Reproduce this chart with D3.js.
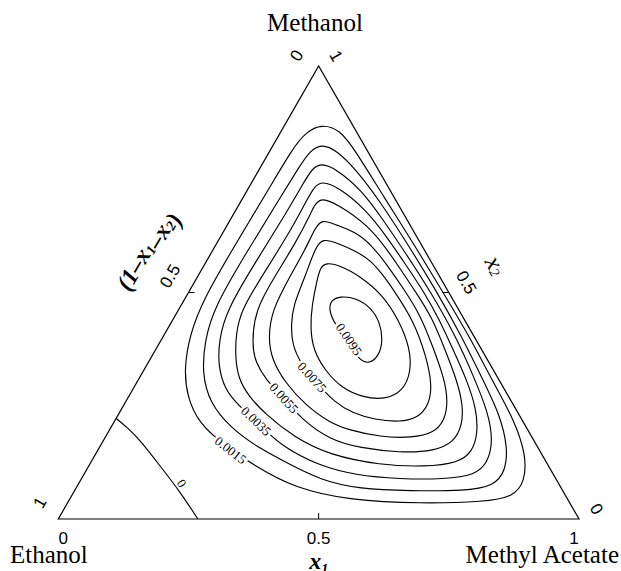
<!DOCTYPE html>
<html>
<head>
<meta charset="utf-8">
<script src="https://cdn.jsdelivr.net/npm/d3@7"></script>
<style>
  body { margin: 0; background: #fff; }
  svg { display: block; }
</style>
</head>
<body>
<script>
const width = 621;
const height = 571;

// contour data, each point is [x1 (methyl acetate), x2 (methanol)]
const levels = [0.0015, 0.0025, 0.0035, 0.0045, 0.0055, 0.0065, 0.0075, 0.0085, 0.0095];

const ring1 = [[.069,.872],[.112,.859],[.162,.815],[.277,.704],[.370,.616],[.488,.501],[.591,.400],[.684,.302],[.766,.219],[.828,.141],[.855,.082],[.849,.049],[.801,.038],[.678,.034],[.540,.041],[.420,.068],[.319,.117],[.232,.166],[.164,.212],[.113,.269],[.075,.333],[.049,.408],[.036,.483],[.037,.605],[.040,.726],[.041,.819],[.049,.854]];
const ring2 = [[.091,.828],[.126,.815],[.188,.770],[.264,.704],[.358,.616],[.477,.501],[.574,.402],[.662,.307],[.733,.230],[.785,.157],[.806,.104],[.800,.073],[.750,.062],[.645,.062],[.546,.066],[.460,.086],[.377,.124],[.302,.159],[.228,.203],[.163,.256],[.115,.322],[.084,.395],[.066,.466],[.067,.583],[.071,.698],[.074,.781],[.077,.812]];
const ring3 = [[.112,.786],[.147,.773],[.220,.726],[.294,.660],[.366,.594],[.465,.501],[.563,.402],[.647,.307],[.707,.236],[.748,.174],[.763,.124],[.752,.097],[.698,.088],[.612,.088],[.521,.097],[.444,.117],[.350,.159],[.272,.216],[.219,.252],[.178,.285],[.139,.336],[.111,.395],[.093,.461],[.095,.565],[.100,.671],[.100,.748],[.101,.773]];
const ring4 = [[.133,.746],[.171,.733],[.251,.682],[.327,.616],[.387,.561],[.452,.501],[.513,.439],[.572,.373],[.631,.307],[.680,.245],[.711,.190],[.721,.148],[.706,.124],[.647,.115],[.558,.119],[.451,.141],[.365,.179],[.281,.232],[.229,.272],[.190,.311],[.161,.358],[.138,.406],[.120,.461],[.124,.550],[.128,.642],[.125,.709],[.125,.733]];
const ring5 = [[.152,.709],[.188,.695],[.270,.649],[.335,.594],[.383,.550],[.436,.501],[.496,.444],[.547,.384],[.612,.307],[.651,.252],[.672,.208],[.675,.170],[.648,.150],[.583,.146],[.501,.157],[.435,.174],[.353,.223],[.300,.267],[.245,.307],[.205,.347],[.180,.384],[.147,.461],[.148,.536],[.151,.611],[.148,.671],[.145,.695]];
const ring6 = [[.175,.662],[.209,.649],[.253,.634],[.299,.605],[.351,.561],[.417,.501],[.472,.448],[.526,.384],[.589,.307],[.619,.258],[.633,.219],[.627,.190],[.590,.179],[.527,.181],[.462,.196],[.416,.212],[.348,.252],[.284,.302],[.235,.351],[.203,.400],[.180,.461],[.177,.532],[.177,.594],[.172,.642]];
const ring7 = [[.198,.620],[.231,.609],[.274,.592],[.313,.572],[.354,.539],[.396,.501],[.462,.439],[.525,.362],[.570,.296],[.586,.252],[.579,.223],[.549,.214],[.499,.219],[.447,.234],[.402,.258],[.351,.296],[.299,.338],[.257,.384],[.233,.428],[.215,.472],[.206,.539],[.194,.598]];
const ring8 = [[.230,.567],[.266,.558],[.311,.536],[.373,.497],[.435,.439],[.487,.377],[.515,.325],[.521,.283],[.496,.263],[.449,.269],[.400,.289],[.349,.327],[.303,.373],[.273,.422],[.251,.472],[.233,.528],[.226,.554]];
const ring9 = [[.295,.492],[.328,.488],[.368,.466],[.400,.435],[.426,.395],[.436,.360],[.426,.342],[.402,.351],[.361,.391],[.316,.430],[.289,.461],[.282,.483]];
const zeroLine = [[.000,.222],[.033,.201],[.070,.174],[.137,.117],[.204,.060],[.268,.000]];

const labelLevels = [0.0015, 0.0035, 0.0055, 0.0075, 0.0095];
const labelSpots = [[.255,.152],[.272,.216],[.300,.267],[.331,.313],[.360,.397]];
const zeroLabelSpot = [.198, .079];

const tickValues = [0, 0.5, 1];
const tickLabels = ["0", "0.5", "1"];
const vertexNames = ["Ethanol", "Methyl Acetate", "Methanol"];

const rings = [ring1, ring2, ring3, ring4, ring5, ring6, ring7, ring8, ring9];

const svg = d3.select("body")
  .append("svg")
  .attr("width", width)
  .attr("height", height);

const xScale = d3.scaleLinear().domain([0, 1]).range([58.3, 579]);
const yScale = d3.scaleLinear().domain([0, 1]).range([519, 66]);
const proj = d => [xScale(d[0] + d[1] / 2), yScale(d[1])];

const closedLine = d3.line()
  .x(d => proj(d)[0])
  .y(d => proj(d)[1])
  .curve(d3.curveBasisClosed);

const openLine = d3.line()
  .x(d => proj(d)[0])
  .y(d => proj(d)[1])
  .curve(d3.curveBasis);

// contours
svg.append("g")
  .selectAll("path")
  .data(rings)
  .join("path")
  .attr("d", closedLine)
  .attr("fill", "none")
  .attr("stroke", "#000")
  .attr("stroke-width", 1.15);

svg.append("path")
  .datum(zeroLine)
  .attr("d", openLine)
  .attr("fill", "none")
  .attr("stroke", "#000")
  .attr("stroke-width", 1.15);

function tangentAngle(pts, px, py, closed) {
  let best = 0, bd = Infinity;
  pts.forEach((p, j) => {
    const dd = (p[0] - px) ** 2 + (p[1] - py) ** 2;
    if (dd < bd) { bd = dd; best = j; }
  });
  const n = pts.length;
  const a = closed ? pts[(best - 1 + n) % n] : pts[Math.max(best - 1, 0)];
  const b = closed ? pts[(best + 1) % n] : pts[Math.min(best + 1, n - 1)];
  let ang = Math.atan2(b[1] - a[1], b[0] - a[0]) * 180 / Math.PI;
  if (ang > 90) ang -= 180;
  if (ang < -90) ang += 180;
  return ang;
}

// inline contour labels
labelSpots.forEach((spot, i) => {
  const ring = rings[levels.indexOf(labelLevels[i])];
  const [px, py] = proj(spot);
  const ang = tangentAngle(ring.map(proj), px, py, true);
  const g = svg.append("g").attr("transform", `translate(${px},${py}) rotate(${ang})`);
  const rect = g.append("rect").attr("fill", "#fff");
  const t = g.append("text")
    .attr("text-anchor", "middle")
    .attr("dy", "0.35em")
    .style("font-family", "'Liberation Serif', 'Times New Roman', serif")
    .style("font-size", "13px")
    .text(d3.format(".4f")(labelLevels[i]));
  const w = t.node().getComputedTextLength();
  rect.attr("x", -w / 2 - 2).attr("y", -5).attr("width", w + 4).attr("height", 10);
});

{
  const [px, py] = proj(zeroLabelSpot);
  const ang = tangentAngle(zeroLine.map(proj), px, py, false);
  svg.append("text")
    .attr("transform", `translate(${px},${py}) rotate(${ang})`)
    .attr("text-anchor", "middle")
    .attr("dy", "0.35em")
    .style("font-family", "'Liberation Serif', 'Times New Roman', serif")
    .style("font-size", "13px")
    .text("0");
}

// triangle frame
const corners = [[0, 0], [1, 0], [0, 1]].map(proj);
svg.append("path")
  .attr("d", "M" + corners.join("L") + "Z")
  .attr("fill", "none")
  .attr("stroke", "#000")
  .attr("stroke-width", 1.2);

// ticks at 0.5
const mid = 0.5;
const tickSegs = [
  [proj([mid, 0]), [0, -6]],
  [proj([0, 1 - mid]), [6, 0]],
  [proj([1 - mid, mid]), [-6, 0]]
];
svg.append("g")
  .selectAll("line")
  .data(tickSegs)
  .join("line")
  .attr("x1", d => d[0][0])
  .attr("y1", d => d[0][1])
  .attr("x2", d => d[0][0] + d[1][0])
  .attr("y2", d => d[0][1] + d[1][1])
  .attr("stroke", "#000")
  .attr("stroke-width", 1);

const sans = "'Liberation Sans', Arial, Helvetica, sans-serif";
const serif = "'Liberation Serif', 'Times New Roman', serif";
const c60 = Math.cos(Math.PI / 3), s60 = Math.sin(Math.PI / 3);

// bottom axis x1
svg.append("g")
  .selectAll("text")
  .data(tickValues)
  .join("text")
  .attr("x", d => xScale(d) + (0.5 - d) * 10)
  .attr("y", 544)
  .attr("text-anchor", "middle")
  .style("font-family", sans)
  .style("font-size", "17px")
  .text((d, i) => tickLabels[i]);

// left axis (1-x1-x2)
const nL = [-s60, -c60], tL = [c60, -s60];
svg.append("g")
  .selectAll("text")
  .data(tickValues)
  .join("text")
  .attr("transform", d => {
    const p = proj([0, 1 - d]);
    const sh = d === 0 ? -2 : 5;
    return `translate(${p[0] + nL[0] * 24 + tL[0] * sh},${p[1] + nL[1] * 24 + tL[1] * sh}) rotate(-60)`;
  })
  .attr("text-anchor", "middle")
  .attr("dominant-baseline", "central")
  .style("font-family", sans)
  .style("font-size", "17px")
  .text((d, i) => tickLabels[i]);

// right axis x2
const nR = [s60, -c60];
svg.append("g")
  .selectAll("text")
  .data(tickValues)
  .join("text")
  .attr("transform", d => {
    const p = proj([1 - d, d]);
    return `translate(${p[0] + nR[0] * 20},${p[1] + nR[1] * 20}) rotate(60)`;
  })
  .attr("text-anchor", "middle")
  .attr("dominant-baseline", "central")
  .style("font-family", sans)
  .style("font-size", "17px")
  .text((d, i) => tickLabels[i]);

// axis titles
function subLabel(sel, parts) {
  parts.forEach(([txt, sub]) => {
    if (sub) {
      sel.append("tspan").attr("dy", 5).style("font-size", "14px").text(txt);
      sel.append("tspan").attr("dy", -5).text("");
    } else {
      sel.append("tspan").text(txt);
    }
  });
}

{
  const p = proj([0, 0.53]);
  const t = svg.append("text")
    .attr("transform", `translate(${p[0] + nL[0] * 59},${p[1] + nL[1] * 59}) rotate(-60)`)
    .attr("text-anchor", "middle")
    .attr("dominant-baseline", "central")
    .style("font-family", serif)
    .style("font-style", "italic")
    .style("font-weight", "bold")
    .style("font-size", "24px");
  subLabel(t, [["(1\u2013x", false], ["1", true], ["\u2013x", false], ["2", true], [")", false]]);
}

{
  const p = proj([0.5, 0.5]);
  const t = svg.append("text")
    .attr("transform", `translate(${p[0] + nR[0] * 55},${p[1] + nR[1] * 55}) rotate(60)`)
    .attr("text-anchor", "middle")
    .attr("dominant-baseline", "central")
    .style("font-family", serif)
    .style("font-style", "italic")
    .style("font-size", "25px");
  subLabel(t, [["x", false], ["2", true]]);
}

{
  const t = svg.append("text")
    .attr("x", xScale(0.5))
    .attr("y", 569)
    .attr("text-anchor", "middle")
    .style("font-family", serif)
    .style("font-style", "italic")
    .style("font-weight", "bold")
    .style("font-size", "24px");
  subLabel(t, [["x", false], ["1", true]]);
}

// component names at the vertices
const nameSpots = [
  { x: 10, y: 563, anchor: "start" },
  { x: 619, y: 563, anchor: "end" },
  { x: 315, y: 31, anchor: "middle" }
];
svg.append("g")
  .selectAll("text")
  .data(vertexNames)
  .join("text")
  .attr("x", (d, i) => nameSpots[i].x)
  .attr("y", (d, i) => nameSpots[i].y)
  .attr("text-anchor", (d, i) => nameSpots[i].anchor)
  .style("font-family", serif)
  .style("font-size", "25px")
  .text(d => d);
</script>
</body>
</html>
